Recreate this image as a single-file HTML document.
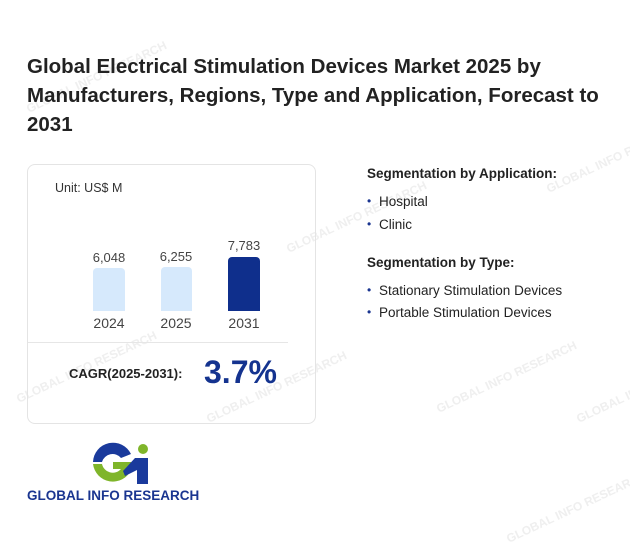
<!DOCTYPE html>
<html><head><meta charset="utf-8"><style>
body{margin:0;width:630px;height:528px;background:#fff;font-family:"Liberation Sans",Arial,sans-serif;position:relative;overflow:hidden;color:#222}
.a{position:absolute}
h1{position:absolute;left:27px;top:52px;margin:0;font-size:20.5px;line-height:29px;font-weight:bold;color:#222;width:600px}
.card{left:27px;top:164px;width:287px;height:258px;border:1px solid #e4e4e4;border-radius:8px}
.bar{position:absolute;border-radius:4px 4px 0 0}
.v{position:absolute;font-size:13px;color:#444;width:60px;text-align:center}
.y{position:absolute;font-size:14px;color:#444;width:60px;text-align:center}
.sh{font-size:13.5px;font-weight:bold;color:#222}
.li{font-size:13.5px;color:#222}
.li:before{content:"•";color:#1a3590;position:absolute;left:-12px;font-size:12px}
.wm{position:absolute;color:#efefef;font-weight:bold;font-size:12px;transform:rotate(-25deg);white-space:nowrap}
</style></head><body>
<div class="wm" style="left:20px;top:70px">GLOBAL INFO RESEARCH</div>
<div class="wm" style="left:280px;top:210px">GLOBAL INFO RESEARCH</div>
<div class="wm" style="left:540px;top:150px">GLOBAL INFO RESEARCH</div>
<div class="wm" style="left:10px;top:360px">GLOBAL INFO RESEARCH</div>
<div class="wm" style="left:200px;top:380px">GLOBAL INFO RESEARCH</div>
<div class="wm" style="left:430px;top:370px">GLOBAL INFO RESEARCH</div>
<div class="wm" style="left:570px;top:380px">GLOBAL INFO RESEARCH</div>
<div class="wm" style="left:500px;top:500px">GLOBAL INFO RESEARCH</div>
<h1>Global Electrical Stimulation Devices Market 2025 by Manufacturers, Regions, Type and Application, Forecast to 2031</h1>
<div class="a card"></div>
<div class="a" style="left:55px;top:181px;font-size:12.5px;color:#333">Unit: US$ M</div>
<div class="bar" style="left:93px;top:268px;width:32px;height:43px;background:#d6e9fc"></div>
<div class="bar" style="left:161px;top:267px;width:31px;height:44px;background:#d6e9fc"></div>
<div class="bar" style="left:228px;top:257px;width:32px;height:54px;background:#0f2f8c"></div>
<div class="v" style="left:79px;top:250px">6,048</div>
<div class="v" style="left:146px;top:249px">6,255</div>
<div class="v" style="left:214px;top:238px">7,783</div>
<div class="y" style="left:79px;top:315px">2024</div>
<div class="y" style="left:146px;top:315px">2025</div>
<div class="y" style="left:214px;top:315px">2031</div>
<div class="a" style="left:28px;top:342px;width:260px;height:1px;background:#e6e6e6"></div>
<div class="a" style="left:69px;top:366px;font-size:13px;font-weight:bold;color:#222">CAGR(2025-2031):</div>
<div class="a" style="left:204px;top:354px;font-size:32px;font-weight:bold;color:#14338f">3.7%</div>
<div class="a sh" style="left:367px;top:166px">Segmentation by Application:</div>
<div class="a li" style="left:379px;top:194px">Hospital</div>
<div class="a li" style="left:379px;top:217px">Clinic</div>
<div class="a sh" style="left:367px;top:255px">Segmentation by Type:</div>
<div class="a li" style="left:379px;top:283px">Stationary Stimulation Devices</div>
<div class="a li" style="left:379px;top:305px">Portable Stimulation Devices</div>
<svg class="a" style="left:85px;top:440px" width="70" height="48" viewBox="0 0 70 48">
<path d="M8 22 A20 20 0 0 1 46 14 L36 18 A11 11 0 0 0 17 22 Z" fill="#1a3a9c"/>
<path d="M8 24 A20 20 0 0 0 46 30 L46 22 L28 22 L28 29 L36 29 A11 11 0 0 1 17 24 Z" fill="#7fb52a"/>
<circle cx="58" cy="9" r="5" fill="#7fb52a"/>
<path d="M50 18 L63 18 L63 44 L52 44 L52 30 L40 36 L38 31 Z" fill="#1a3a9c"/>
</svg>
<div class="a" style="left:27px;top:488px;font-size:13.5px;font-weight:bold;color:#1a3590">GLOBAL INFO RESEARCH</div>
</body></html>
